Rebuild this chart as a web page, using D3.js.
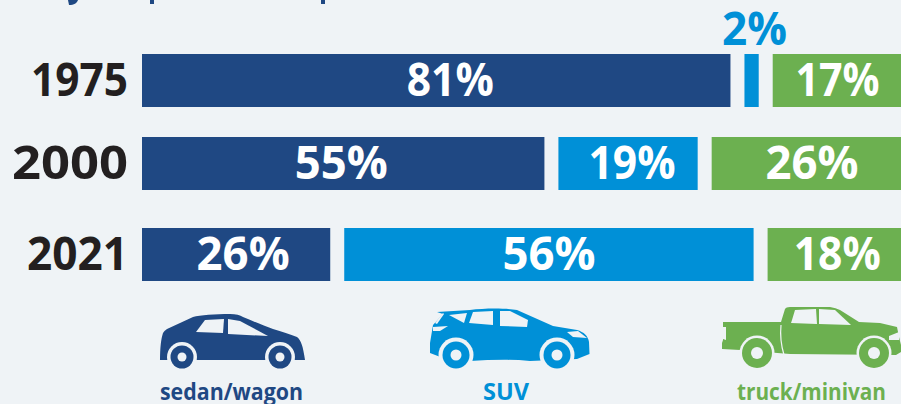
<!DOCTYPE html>
<html><head><meta charset="utf-8">
<script src="https://cdn.jsdelivr.net/npm/d3@7"></script>
<style>
html,body{margin:0;padding:0;background:#eff3f6;overflow:hidden}
svg{display:block}
text{font-family:"Open Sans",sans-serif;font-weight:700}
</style></head><body>
<svg id="c" width="901" height="404"></svg>
<script>
const years = ["1975","2000","2021"];
const categories = ["sedan/wagon","SUV","truck/minivan"];
const labels1975 = [81,2,17];
const labels2000 = [55,19,26];
const labels2021 = [26,56,18];
const bars1975 = [80.5,1.95,17.7];
const bars2000 = [55.05,19.05,26.05];
const bars2021 = [25.75,56.0,18.25];
const colors = ["#1f4883","#0090d7","#6cb050"];

// layout only
const rowTops = [54,137,228];
const yearFit = [97,116,101];
const labelFit = [[87,65,84],[93,87,93],[93,93,87]];
const labelDx = [[14,3,0],[-2,4,5],[7,0,3]];
const legendBox = [[160,143],[483,46],[737,149]];

const W=901,H=404,gap=14,left=142,barH=53,fs=46;
const bg="#eff3f6";
const svg=d3.select("#c");
svg.append("rect").attr("width",W).attr("height",H).attr("fill",bg);
const x=d3.scaleLinear().domain([0,100]).range([0,W-left-2*gap]);
const rows=[[bars1975,labels1975],[bars2000,labels2000],[bars2021,labels2021]];

// bottom edge of the cropped headline
svg.append("path").attr("fill",colors[0]).attr("d","M68 0 L78 0 C77 3 74 5 69 5 Z");
svg.append("rect").attr("x",150).attr("y",0).attr("width",4).attr("height",4).attr("fill",colors[0]);
svg.append("rect").attr("x",321).attr("y",0).attr("width",4).attr("height",4).attr("fill",colors[0]);

years.forEach((yr,r)=>{
  const y=rowTops[r]; const [vals,labs]=rows[r];
  svg.append("text").attr("x",128-yearFit[r]).attr("y",y+42)
    .attr("textLength",yearFit[r]).attr("lengthAdjust","spacingAndGlyphs")
    .attr("fill","#231f20").attr("font-size",fs).text(yr);
  let cum=0;
  vals.forEach((v,i)=>{
    const x0=left+x(cum)+i*gap, w=x(v);
    svg.append("rect").attr("x",x0).attr("y",y).attr("width",w).attr("height",barH).attr("fill",colors[i]);
    const small=w<40, tw=labelFit[r][i];
    svg.append("text").attr("x",x0+w/2+labelDx[r][i]-tw/2).attr("y",small?y-9:y+42)
      .attr("textLength",tw).attr("lengthAdjust","spacingAndGlyphs")
      .attr("font-size",fs).attr("fill",small?colors[i]:"#fff").text(labs[i]+"%");
    cum+=v;
  });
});

categories.forEach((c,i)=>{
  svg.append("text").attr("x",legendBox[i][0]).attr("y",400)
   .attr("textLength",legendBox[i][1]).attr("lengthAdjust","spacingAndGlyphs")
   .attr("font-size",23).attr("fill",colors[i]).text(c);
});

function wheel(g,cx,cy,r,hole,ring,c){
  g.append("circle").attr("cx",cx).attr("cy",cy).attr("r",r+ring).attr("fill",bg);
  g.append("circle").attr("cx",cx).attr("cy",cy).attr("r",r).attr("fill",c);
  g.append("circle").attr("cx",cx).attr("cy",cy).attr("r",hole).attr("fill",bg);
}
function shape(g,d,fill){g.append("path").attr("fill",fill).attr("d",d);}

// sedan
let g=svg.append("g");
shape(g,"M160 360 C160 348 161 339 163 333 Q164 331 167 329 L193 317 C200 315 215 314 230 314 C236 314 240 315 243 317 C255 322 264 326 273 329 C282 332 290 334 297 337 C301 340 303 346 305 360 Z",colors[0]);
shape(g,"M196 332 L205 320 L224 319 L223 333 Z",bg);
shape(g,"M228 319 L240 321 L268 336 L228 334 Z",bg);
wheel(g,182,357,11.5,4.5,3.5,colors[0]);
wheel(g,280,357,11.5,4.5,3.5,colors[0]);

// SUV
g=svg.append("g");
shape(g,"M437 312 L470 310 C485 308 505 308 517 310 L553 326 L577 330 C584 332 588 336 589 342 L589.500 354 L577 359 L530 361 C510 359 490 360 470 361 L443 358 L430 353 L430 343 L433 325 L443 314 Z",colors[1]);
shape(g,"M449 315 L467 313 L464 323 Z",bg);
shape(g,"M473 312 L493 311 L493 325 L469 323 Z",bg);
shape(g,"M500 311 L510 311 L528 320 L527 327 L500 326 Z",bg);
shape(g,"M433 327 L448 326 L440 331 L433 331 Z",bg);
shape(g,"M567 332 L578 331 L587 338 L573 337 Z",bg);
shape(g,"M435 323 L443 313 L444 314 L437 324 Z",bg);
wheel(g,456,355,13.5,5.5,4,colors[1]);
wheel(g,557,355,13.5,5.5,4,colors[1]);

// truck
g=svg.append("g");
shape(g,"M723 322 L781 322 L785 309 Q786 307 790 307 L830 307 Q836 308 840 310 L859 322 L880 323 L897 327 L899 337 L901 345 L901 352 L896 355 L790 354 L740 350 L722 349 L722 343 L723 340 Z",colors[2]);
shape(g,"M792 320 L795 310 L816 309 L817 324 L791 323 Z",bg);
shape(g,"M819 309 L835 310 L851 325 L819 324 Z",bg);
shape(g,"M889 336 L899 332 L899 340 L889 340 Z",bg);
shape(g,"M723 327 L726 327 L726 340 L723 339 Z",bg);
g.append("path").attr("fill","none").attr("stroke",bg).attr("stroke-width",1.2).attr("d","M781 325 C780 335 781 345 784 355");
wheel(g,757,353,15,6,2.5,colors[2]);
wheel(g,874,353,15,6,2.5,colors[2]);
</script></body></html>
